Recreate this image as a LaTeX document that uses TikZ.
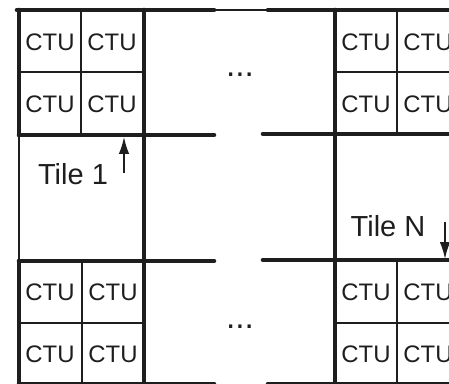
\documentclass[tikz,border=0pt]{standalone}
\usepackage{fontspec}
\setmainfont{Liberation Sans}
\usetikzlibrary{arrows.meta}
\definecolor{ink}{HTML}{1E1E1E}

\begin{document}
\begin{tikzpicture}[x=0.02cm,y=-0.02cm,
        ctu/.style={font=\fontsize{13.6}{15}\selectfont,inner sep=0pt,text=ink},
        tilelabel/.style={font=\fontsize{16.5}{19}\selectfont,inner sep=0pt,text=ink},
        dots/.style={font=\fontsize{19}{21}\selectfont,inner sep=0pt,text=ink},
        border/.style={line width=2.6pt,line cap=round,draw=ink},
        cell/.style={line width=0.7pt,draw=ink},
        arr/.style={-{Latex[length=0.34cm,width=0.21cm]},line width=0.9pt,draw=ink,fill=ink}
      ]
        \useasboundingbox (0,0) rectangle (449,384);
        % CTU cell lines
        \draw[cell] (19,72) -- (144,72) (81,10) -- (81,135);
        \draw[cell] (19,323) -- (144,323) (82,261) -- (82,390);
        \draw[cell] (335,72) -- (460,72) (397,10) -- (397,134);
        \draw[cell] (335,323) -- (460,323) (397,260) -- (397,390);
        \draw[cell] (214,10) -- (268,10) (19,135) -- (19,261);
        % tile borders
        \draw[border] (17,10) -- (214,10) (268,10) -- (460,10);
        \draw[border] (19,10) -- (19,135) (19,261) -- (19,395);
        \draw[border] (144,10) -- (144,395) (335,10) -- (335,395);
        \draw[border] (19,135) -- (214,135) (263,134) -- (460,134);
        \draw[border] (19,261) -- (214,261) (263,260) -- (460,260);
        \draw[border] (19,384) -- (214,384) (268,384) -- (460,384);
        % CTU labels
        \node[ctu] (tl11) at (50,42) {CTU};
        \node[ctu] (tl12) at (112,42) {CTU};
        \node[ctu] (tl21) at (50,104) {CTU};
        \node[ctu] (tl22) at (112,104) {CTU};
        \node[ctu] (bl11) at (50,292) {CTU};
        \node[ctu] (bl12) at (113,292) {CTU};
        \node[ctu] (bl21) at (50,354) {CTU};
        \node[ctu] (bl22) at (113,354) {CTU};
        \node[ctu] (tr11) at (366,42) {CTU};
        \node[ctu] (tr12) at (428,42) {CTU};
        \node[ctu] (tr21) at (366,104) {CTU};
        \node[ctu] (tr22) at (428,104) {CTU};
        \node[ctu] (br11) at (366,292) {CTU};
        \node[ctu] (br12) at (428,292) {CTU};
        \node[ctu] (br21) at (366,354) {CTU};
        \node[ctu] (br22) at (428,354) {CTU};
        \node[dots] (topdots) at (240,75) {...};
        \node[dots] (botdots) at (240,327) {...};
        % tile labels and arrows
        \node[tilelabel] (tile1) at (73,174) {Tile 1};
        \node[tilelabel] (tileN) at (388,226) {Tile N};
        \coordinate (t1from) at (124,173);
        \coordinate (t1to) at (124,137);
        \coordinate (tNfrom) at (445,222);
        \coordinate (tNto) at (445,259);
        \draw[arr] (t1from) -- (t1to);
        \draw[arr] (tNfrom) -- (tNto);
      \end{tikzpicture}
\end{document}
